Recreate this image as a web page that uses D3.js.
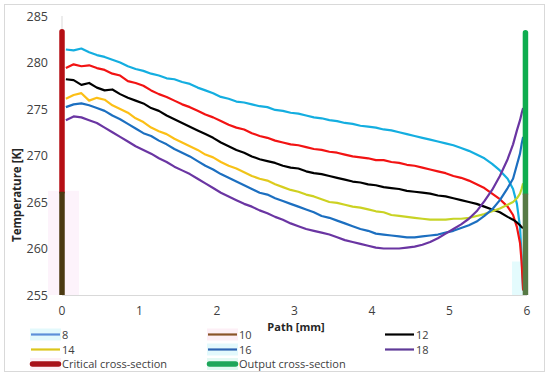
<!DOCTYPE html>
<html>
<head>
<meta charset="utf-8">
<script src="https://cdn.jsdelivr.net/npm/d3@7"></script>
<style>
  body { margin: 0; background: #fff; }
  text { font-family: "Open Sans", sans-serif; }
</style>
</head>
<body>
<svg width="550" height="377"></svg>
<script>
// path positions [mm], shared by every series
var path = [0.05,0.15,0.25,0.35,0.45,0.55,0.65,0.75,0.85,0.95,
  1.05,1.15,1.25,1.35,1.45,1.55,1.65,1.75,1.85,1.95,
  2.05,2.15,2.25,2.35,2.45,2.55,2.65,2.75,2.85,2.95,
  3.05,3.15,3.25,3.35,3.45,3.55,3.65,3.75,3.85,3.95,
  4.05,4.15,4.25,4.35,4.45,4.55,4.65,4.75,4.85,4.95,
  5.05,5.15,5.25,5.35,5.45,5.55,5.65,5.75,5.82,5.87,5.91,5.93,5.95];

var t8 = [281.4,281.3,281.5,281.1,280.8,280.6,280.3,280.0,279.6,279.3,
  279.1,278.8,278.6,278.3,278.2,277.9,277.7,277.3,277.0,276.7,
  276.3,276.1,275.8,275.7,275.5,275.3,275.2,274.9,274.8,274.6,
  274.5,274.3,274.1,274.0,273.8,273.7,273.5,273.4,273.2,273.1,
  273.0,272.8,272.7,272.5,272.3,272.1,271.9,271.7,271.5,271.3,
  271.1,270.8,270.5,270.1,269.7,269.1,268.4,267.5,266.4,264.8,262.3,259.2,255.5];

var t10 = [279.4,279.8,279.6,279.7,279.4,279.2,278.8,278.6,278.0,277.8,
  277.5,277.0,276.6,276.3,275.9,275.5,275.2,274.8,274.4,274.1,
  273.7,273.3,273.0,272.8,272.4,272.1,271.9,271.6,271.4,271.2,
  271.1,270.9,270.7,270.6,270.4,270.3,270.1,269.9,269.8,269.7,
  269.5,269.5,269.3,269.2,269.0,268.9,268.7,268.5,268.3,268.1,
  267.8,267.6,267.3,266.9,266.5,265.9,265.3,264.5,263.6,262.3,260.6,258.6,255.5];

var t12 = [278.2,278.1,277.6,277.8,277.3,277.0,277.1,276.6,276.2,275.9,
  275.6,275.1,274.8,274.3,273.9,273.5,273.1,272.7,272.3,271.9,
  271.4,271.0,270.6,270.3,269.9,269.6,269.4,269.2,268.9,268.7,
  268.6,268.3,268.1,268.0,267.8,267.6,267.4,267.2,267.1,266.9,
  266.8,266.6,266.5,266.4,266.2,266.1,266.0,265.9,265.7,265.6,
  265.4,265.2,265.0,264.8,264.5,264.2,263.9,263.4,263.1,262.8,262.5,262.3,262.2];

var t14 = [276.1,276.5,276.7,275.9,276.2,276.0,275.4,275.0,274.6,274.0,
  273.6,273.0,272.6,272.3,271.8,271.4,271.0,270.6,270.1,269.8,
  269.3,268.9,268.6,268.2,267.8,267.5,267.3,266.9,266.6,266.3,
  266.1,265.8,265.6,265.3,265.0,264.9,264.7,264.5,264.4,264.2,
  264.0,263.9,263.6,263.5,263.4,263.3,263.2,263.1,263.1,263.1,
  263.2,263.2,263.3,263.5,263.7,264.0,264.3,264.7,265.0,265.4,265.9,266.4,267.0];

var t16 = [275.2,275.5,275.6,275.4,275.1,274.8,274.3,273.9,273.4,272.9,
  272.4,272.1,271.6,271.2,270.7,270.3,269.9,269.4,268.9,268.5,
  268.0,267.6,267.2,266.8,266.4,266.0,265.8,265.4,265.1,264.8,
  264.5,264.2,263.9,263.5,263.3,263.0,262.7,262.4,262.1,261.9,
  261.6,261.5,261.4,261.3,261.2,261.2,261.3,261.4,261.5,261.7,
  261.9,262.2,262.5,262.9,263.5,264.2,265.2,266.5,267.5,269.0,270.2,271.2,272.0];

var t18 = [273.8,274.2,274.1,273.8,273.5,273.0,272.5,272.0,271.5,271.0,
  270.6,270.2,269.7,269.3,268.8,268.4,268.0,267.5,267.0,266.5,
  266.0,265.6,265.2,264.8,264.5,264.1,263.8,263.4,263.1,262.7,
  262.4,262.1,261.9,261.7,261.5,261.2,260.9,260.7,260.5,260.3,
  260.1,260.0,260.0,260.0,260.1,260.2,260.4,260.7,261.1,261.6,
  262.1,262.6,263.2,264.0,265.1,266.3,267.8,269.6,271.2,272.7,273.8,274.5,275.1];

var seriesNames = ["8", "10", "12", "14", "16", "18"];
var xTicks = [0, 1, 2, 3, 4, 5, 6];
var yTicks = [255, 260, 265, 270, 275, 280, 285];
// cross-section markers: [path, bottom, top]
var critical = [0, 255, 283.3];
var output = [5.98, 255, 283.2];

var svg = d3.select("svg");

var margin = {top: 16, left: 62},
    plotW = 465,
    plotH = 279;

// chart border
svg.append("rect")
    .attr("x", 4.5).attr("y", 4.5)
    .attr("width", 540).attr("height", 367)
    .attr("fill", "#fff")
    .attr("stroke", "#d9d9d9");

var x = d3.scaleLinear().domain([0, 6]).range([margin.left, margin.left + plotW]);
var y = d3.scaleLinear().domain([255, 285]).range([margin.top + plotH, margin.top]);

// faint backgrounds near the cross-sections
svg.append("rect").attr("x", 48).attr("y", y(266.2)).attr("width", 31)
    .attr("height", y(255) - y(266.2)).attr("fill", "#fdf3fb");
svg.append("rect").attr("x", 512).attr("y", y(258.6)).attr("width", 14)
    .attr("height", y(255) - y(258.6)).attr("fill", "#e4fbfd");

// axis lines
svg.append("line")
    .attr("x1", x(0)).attr("x2", x(0))
    .attr("y1", y(285)).attr("y2", y(255))
    .attr("stroke", "#d9d9d9");
svg.append("line")
    .attr("x1", x(0)).attr("x2", x(6))
    .attr("y1", y(255) + 0.5).attr("y2", y(255) + 0.5)
    .attr("stroke", "#d9d9d9");

// tick labels
svg.append("g").selectAll("text")
    .data(yTicks).enter().append("text")
    .attr("x", 48)
    .attr("y", function (d) { return y(d) + 4.5; })
    .attr("text-anchor", "end")
    .style("font-size", "12.5px")
    .attr("fill", "#404040")
    .text(function (d) { return d; });

svg.append("g").selectAll("text")
    .data(xTicks).enter().append("text")
    .attr("x", function (d) { return x(d); })
    .attr("y", 315)
    .attr("text-anchor", "middle")
    .style("font-size", "12px")
    .attr("fill", "#404040")
    .text(function (d) { return d; });

// axis titles
svg.append("text")
    .attr("x", 296).attr("y", 331)
    .attr("text-anchor", "middle")
    .style("font-size", "11px").style("font-weight", "bold")
    .attr("fill", "#262626")
    .text("Path [mm]");

svg.append("text")
    .attr("transform", "translate(21,195) rotate(-90)")
    .attr("text-anchor", "middle")
    .style("font-size", "11.5px").style("font-weight", "bold")
    .attr("fill", "#262626")
    .text("Temperature [K]");

// yellow line fades toward yellow-green like the original
var defs = svg.append("defs");
var grad = defs.append("linearGradient").attr("id", "g14")
    .attr("gradientUnits", "userSpaceOnUse")
    .attr("x1", x(0)).attr("x2", x(6)).attr("y1", 0).attr("y2", 0);
grad.append("stop").attr("offset", "0.35").attr("stop-color", "#fcbf16");
grad.append("stop").attr("offset", "0.5").attr("stop-color", "#cfd020");
grad.append("stop").attr("offset", "1").attr("stop-color", "#c2d62a");

var lineColors = ["#14aee0", "#f21313", "#000000", "url(#g14)", "#1c6fc0", "#6a35a2"];
var allSeries = [t8, t10, t12, t14, t16, t18];

var line = d3.line()
    .x(function (d, i) { return x(path[i]); })
    .y(function (d) { return y(d); });

svg.append("g").selectAll("path")
    .data(allSeries).enter().append("path")
    .attr("d", line)
    .attr("fill", "none")
    .attr("stroke", function (d, i) { return lineColors[i]; })
    .attr("stroke-width", 2.2)
    .attr("stroke-linejoin", "round");

// cross-section bars
function bar(c, top, low, split) {
    svg.append("line")
        .attr("x1", x(c[0])).attr("x2", x(c[0]))
        .attr("y1", y(split)).attr("y2", y(c[2]))
        .attr("stroke", top).attr("stroke-width", 5.5)
        .attr("stroke-linecap", "round");
    svg.append("line")
        .attr("x1", x(c[0])).attr("x2", x(c[0]))
        .attr("y1", y(c[1])).attr("y2", y(split))
        .attr("stroke", low).attr("stroke-width", 5.5);
}
bar(critical, "#b50f14", "#4b3a12", 266.1);
bar(output, "#0ead4f", "#577a45", 265.9);

// legend
var legendItems = [
  {name: "8", color: "#5d8fd8", w: 2.2, bg: "#e3f9fc"},
  {name: "10", color: "#8a5328", w: 2.2, bg: "#fdeff6"},
  {name: "12", color: "#000000", w: 2.2, bg: null},
  {name: "14", color: "#dcc61c", w: 2.2, bg: null},
  {name: "16", color: "#2d64b2", w: 2.2, bg: "#e3f9fc"},
  {name: "18", color: "#5f3a98", w: 2.2, bg: null},
  {name: "Critical cross-section", color: "#a8101a", w: 5.5, bg: "#fdeff6"},
  {name: "Output cross-section", color: "#1ea65a", w: 5.5, bg: "#e3f9f3"}
];
var colX = [31, 208, 385],
    rowY = [334.5, 349.5, 364];

var leg = svg.append("g").selectAll("g")
    .data(legendItems).enter().append("g")
    .attr("transform", function (d, i) {
        return "translate(" + colX[i % 3] + "," + rowY[Math.floor(i / 3)] + ")";
    });

leg.filter(function (d) { return d.bg; }).append("rect")
    .attr("x", -1).attr("y", -6).attr("width", 31).attr("height", 12)
    .attr("fill", function (d) { return d.bg; });

leg.append("line")
    .attr("x1", function (d) { return d.w > 3 ? 1.5 : 0; })
    .attr("x2", function (d) { return d.w > 3 ? 27.5 : 29; })
    .attr("y1", 0).attr("y2", 0)
    .attr("stroke", function (d) { return d.color; })
    .attr("stroke-width", function (d) { return d.w; })
    .attr("stroke-linecap", function (d) { return d.w > 3 ? "round" : "butt"; });

leg.append("text")
    .attr("x", 31).attr("y", 4)
    .style("font-size", "11px")
    .attr("fill", "#404040")
    .text(function (d) { return d.name; });
</script>
</body>
</html>
